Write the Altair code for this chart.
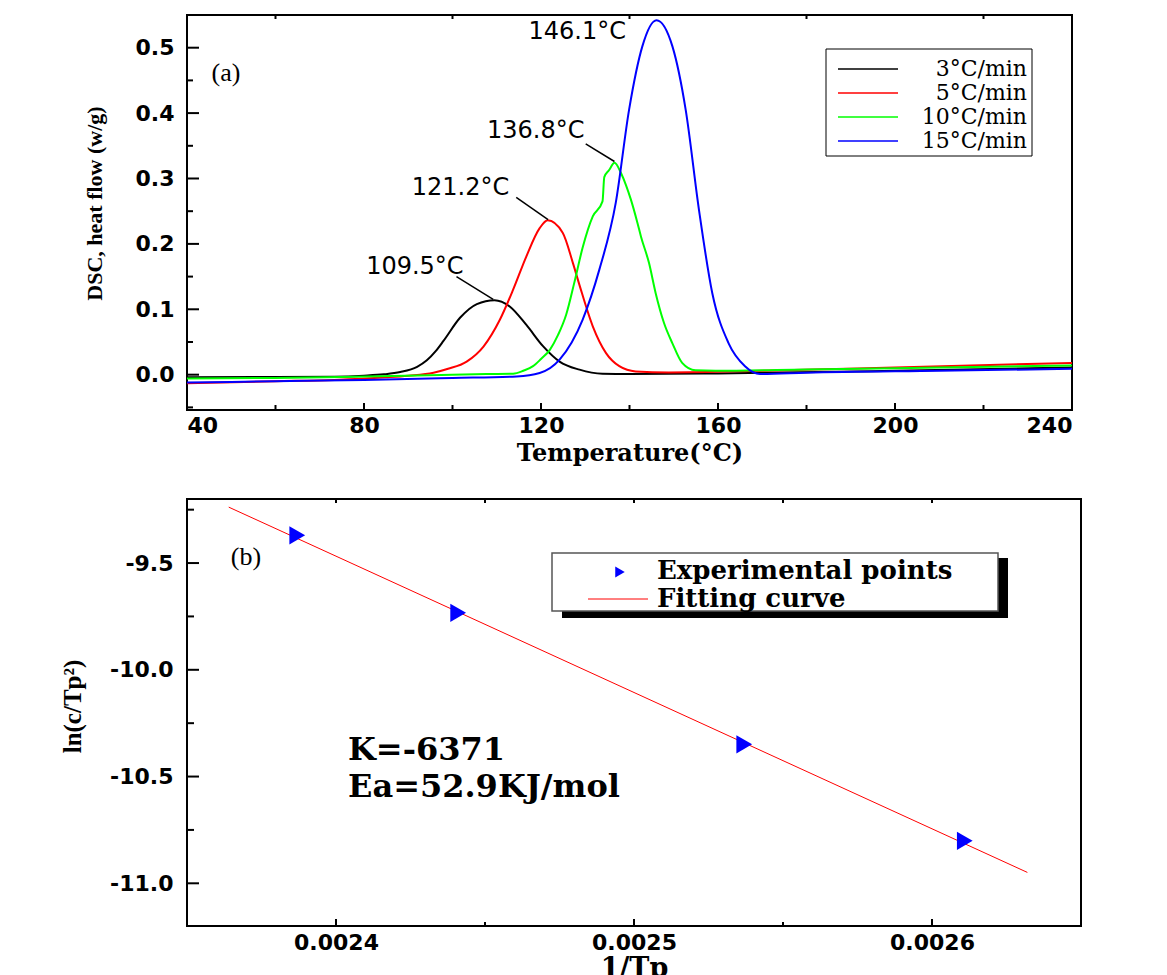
import altair as alt
import pandas as pd

# ---------------- Panel (a): DSC curves ----------------
rates = ["3°C/min", "5°C/min", "10°C/min", "15°C/min"]
colors = ["#000000", "#ff0000", "#00ff00", "#0000ff"]

black_T = [40, 60, 73.3, 80, 84.5, 88.2, 92.0, 94.2, 96.2, 98.0, 101.7, 105.5, 109.5, 113.0, 116.7, 120.4, 124.2, 128.7, 133.9, 140, 160, 200, 240]
black_v = [-0.004, -0.0035, -0.003, -0.0015, 0.0005, 0.004, 0.012, 0.022, 0.036, 0.052, 0.087, 0.108, 0.114, 0.104, 0.076, 0.044, 0.020, 0.0077, 0.0015, 0.001, 0.002, 0.006, 0.011]

red_T = [40, 60, 73.3, 85, 90, 95.7, 99, 103.2, 107.0, 110.7, 113.7, 116.7, 119.7, 121.5, 124.9, 127.2, 128.7, 131.7, 134.7, 137.7, 141.4, 148.9, 170, 200, 240]
red_v = [-0.013, -0.010, -0.008, -0.004, -0.0015, 0.003, 0.009, 0.020, 0.043, 0.084, 0.130, 0.181, 0.224, 0.236, 0.217, 0.171, 0.137, 0.074, 0.033, 0.013, 0.005, 0.0035, 0.006, 0.011, 0.018]

green_T = [40, 60, 75, 95, 107.7, 113.7, 116, 118.2, 120, 122, 123.8, 125.7, 127.5, 129.4, 131.7, 133.9, 134.3, 135.4, 136.6, 138.1, 139.2, 140.3, 141.8, 142.6, 144.4, 145.9, 147.8, 149.7, 151.9, 154.9, 159.4, 180, 210, 240]
green_v = [-0.006, -0.005, -0.0035, -0.001, 0.001, 0.0015, 0.006, 0.013, 0.024, 0.038, 0.060, 0.092, 0.140, 0.194, 0.242, 0.265, 0.302, 0.313, 0.324, 0.308, 0.290, 0.268, 0.232, 0.211, 0.171, 0.125, 0.079, 0.048, 0.018, 0.0066, 0.006, 0.008, 0.011, 0.014]

blue_T = [40, 60, 80, 100, 114.5, 119.7, 124.2, 129.4, 133.2, 136.9, 139.9, 142.9, 146.1, 149.7, 152.7, 155.7, 158.7, 162.4, 166.1, 169.5, 180, 210, 240]
blue_v = [-0.012, -0.010, -0.008, -0.005, -0.0026, 0.0026, 0.023, 0.084, 0.161, 0.263, 0.405, 0.502, 0.542, 0.502, 0.405, 0.252, 0.125, 0.048, 0.013, 0.001, 0.003, 0.006, 0.009]

# peak annotations (text centre and leader line, in data coordinates)
ann_text = ["109.5°C", "121.2°C", "136.8°C", "146.1°C"]
ann_T = [91.5, 101.8, 118.8, 128.2]
ann_v = [0.164, 0.286, 0.372, 0.524]
lead_T1 = [100.9, 114.4, 130.1]
lead_v1 = [0.150, 0.271, 0.353]
lead_T2 = [109.2, 121.6, 136.6]
lead_v2 = [0.115, 0.237, 0.326]

xa_major = [40, 80, 120, 160, 200, 240]
xa_minor = [60, 100, 140, 180, 220]
ya_major = [0.0, 0.1, 0.2, 0.3, 0.4, 0.5]
ya_minor = [-0.05, 0.05, 0.15, 0.25, 0.35, 0.45]

# ---------------- Panel (b): Kissinger plot ----------------
pts_x = [0.002387, 0.002441, 0.002537, 0.002611]
pts_y = [-9.370, -9.733, -10.349, -10.801]
fit_x = [0.002364, 0.002632]
fit_y = [-9.238, -10.949]

xb_major = [0.0024, 0.0025, 0.0026]
xb_minor = [0.00245, 0.00255]
yb_major = [-9.5, -10.0, -10.5, -11.0]
yb_minor = [-9.25, -9.75, -10.25, -10.75]

# ---------------- build ----------------
W_A, H_A = 885, 395
W_B, H_B = 894, 427

rows = []
for name, Ts, vs in zip(rates, [black_T, red_T, green_T, blue_T], [black_v, red_v, green_v, blue_v]):
    for t, v in zip(Ts, vs):
        rows.append({"rate": name, "T": t, "v": v})
dsc = pd.DataFrame(rows)

one = pd.DataFrame({"k": [0]})


def sxa():
    return alt.Scale(domain=[40, 240], nice=False, zero=False)


def sya():
    return alt.Scale(domain=[-0.054, 0.55], nice=False, zero=False)


def sxb():
    return alt.Scale(domain=[0.00235, 0.00265], nice=False, zero=False)


def syb():
    return alt.Scale(domain=[-11.2, -9.2], nice=False, zero=False)


LABEL_FONT = "DejaVu Sans"
LFS = 22

AX_XA = dict(values=xa_major, format="d", ticks=False, domain=False, grid=False,
             labelFont=LABEL_FONT, labelFontWeight="bold", labelFontSize=LFS, labelPadding=5,
             title="Temperature(°C)", titleFont="DejaVu Serif", titleFontWeight="bold",
             titleFontSize=24, titleY=31, titleBaseline="top")
AX_YA = dict(values=ya_major, format=".1f", ticks=False, domain=False, grid=False,
             labelFont=LABEL_FONT, labelFontWeight="bold", labelFontSize=LFS, labelPadding=13,
             title="DSC, heat flow (w/g)", titleFont="Liberation Serif", titleFontWeight="bold",
             titleFontSize=22, titleAngle=270, titleX=-93, titleY=188,
             titleAlign="center", titleBaseline="middle")
AX_XB = dict(values=xb_major, format=".4f", ticks=False, domain=False, grid=False,
             labelFont=LABEL_FONT, labelFontWeight="bold", labelFontSize=LFS, labelPadding=6,
             title="1/Tp", titleFont="DejaVu Serif", titleFontWeight="bold",
             titleFontSize=27, titleY=29, titleBaseline="top")
AX_YB = dict(values=yb_major, format=".1f", labelExpr="replace(datum.label, '−', '-')",
             ticks=False, domain=False, grid=False,
             labelFont=LABEL_FONT, labelFontWeight="bold", labelFontSize=LFS, labelPadding=14,
             title="ln(c/Tp²)", titleFont="Liberation Serif", titleFontWeight="bold",
             titleFontSize=25, titleAngle=270, titleX=-115, titleY=207,
             titleAlign="center", titleBaseline="middle")


def X(field, panel):
    if panel == "a":
        return alt.X(field, scale=sxa(), axis=alt.Axis(**AX_XA))
    return alt.X(field, scale=sxb(), axis=alt.Axis(**AX_XB))


def Y(field, panel):
    if panel == "a":
        return alt.Y(field, scale=sya(), axis=alt.Axis(**AX_YA))
    return alt.Y(field, scale=syb(), axis=alt.Axis(**AX_YB))


lines_a = alt.Chart(dsc).mark_line(strokeWidth=2, interpolate="monotone", clip=True).encode(
    x=X("T:Q", "a"), y=Y("v:Q", "a"),
    color=alt.Color("rate:N", scale=alt.Scale(domain=rates, range=colors), legend=None),
)


def xticks(vals, panel, y0, y1):
    return alt.Chart(pd.DataFrame({"t": vals})).mark_rule(color="black", strokeWidth=2).encode(
        x=X("t:Q", panel), y=alt.value(y0), y2=alt.value(y1))


def yticks(vals, panel, x0, x1):
    return alt.Chart(pd.DataFrame({"t": vals})).mark_rule(color="black", strokeWidth=2).encode(
        y=Y("t:Q", panel), x=alt.value(x0), x2=alt.value(x1))


ann_df = pd.DataFrame({"text": ann_text, "T": ann_T, "v": ann_v})
ann_a = alt.Chart(ann_df).mark_text(font="DejaVu Sans", fontSize=24, align="center",
                                     baseline="middle", color="black").encode(
    x=X("T:Q", "a"), y=Y("v:Q", "a"), text="text:N")
lead_df = pd.DataFrame({"T1": lead_T1, "v1": lead_v1, "T2": lead_T2, "v2": lead_v2})
lead_a = alt.Chart(lead_df).mark_rule(color="black", strokeWidth=1.5).encode(
    x=X("T1:Q", "a"), y=Y("v1:Q", "a"), x2="T2:Q", y2="v2:Q")

label_a = alt.Chart(one).mark_text(text="(a)", font="Liberation Serif", fontSize=26,
                                   align="center", baseline="middle", color="black").encode(
    x=alt.value(39), y=alt.value(58))

leg_a = [alt.Chart(one).mark_rect(fill="white", stroke="black", strokeWidth=1).encode(
    x=alt.value(639), x2=alt.value(845), y=alt.value(34), y2=alt.value(141))]
for i, (name, col) in enumerate(zip(rates, colors)):
    yy = 54 + 24 * i
    leg_a.append(alt.Chart(one).mark_rule(color=col, strokeWidth=1.5).encode(
        x=alt.value(651), x2=alt.value(711), y=alt.value(yy)))
    leg_a.append(alt.Chart(one).mark_text(text=name, font="DejaVu Serif", fontSize=22,
                                          align="right", baseline="middle", color="black").encode(
        x=alt.value(840), y=alt.value(yy)))

panel_a = alt.layer(
    lines_a, lead_a, ann_a, label_a,
    yticks(ya_major, "a", 0, 12), yticks(ya_minor, "a", 0, 6),
    xticks(xa_major[1:-1], "a", H_A, H_A - 7), xticks(xa_minor, "a", H_A, H_A - 5),
    xticks(xa_minor, "a", 0, 4),
    *leg_a,
).properties(width=W_A, height=H_A)

# panel b
fit_df = pd.DataFrame({"x": fit_x, "y": fit_y})
fit_b = alt.Chart(fit_df).mark_line(color="#ff0000", strokeWidth=1, clip=True).encode(
    x=X("x:Q", "b"), y=Y("y:Q", "b"))
pts_df = pd.DataFrame({"x": pts_x, "y": pts_y})
pts_b = alt.Chart(pts_df).mark_point(shape="triangle-right", filled=True, color="#0000ff",
                                     size=330, opacity=1).encode(
    x=X("x:Q", "b"), y=Y("y:Q", "b"))

label_b = alt.Chart(one).mark_text(text="(b)", font="Liberation Serif", fontSize=26,
                                   align="center", baseline="middle", color="black").encode(
    x=alt.value(59), y=alt.value(58))
k_txt = alt.Chart(one).mark_text(text="K=-6371", font="DejaVu Serif", fontWeight="bold",
                                 fontSize=32, align="left", baseline="middle", color="black").encode(
    x=alt.value(161), y=alt.value(251))
ea_txt = alt.Chart(one).mark_text(text="Ea=52.9KJ/mol", font="DejaVu Serif", fontWeight="bold",
                                  fontSize=32, align="left", baseline="middle", color="black").encode(
    x=alt.value(161), y=alt.value(288))

leg_b = [
    alt.Chart(one).mark_rect(fill="black").encode(
        x=alt.value(375), x2=alt.value(821), y=alt.value(59), y2=alt.value(119)),
    alt.Chart(one).mark_rect(fill="white", stroke="#555555", strokeWidth=1.5).encode(
        x=alt.value(365), x2=alt.value(811), y=alt.value(54), y2=alt.value(112)),
    alt.Chart(one).mark_point(shape="triangle-right", filled=True, color="#0000ff", size=120,
                              opacity=1).encode(x=alt.value(433), y=alt.value(73)),
    alt.Chart(one).mark_rule(color="#ff0000", strokeWidth=1).encode(
        x=alt.value(401), x2=alt.value(461), y=alt.value(100)),
    alt.Chart(one).mark_text(text="Experimental points", font="DejaVu Serif", fontWeight="bold",
                             fontSize=26, align="left", baseline="middle", color="black").encode(
        x=alt.value(470), y=alt.value(72)),
    alt.Chart(one).mark_text(text="Fitting curve", font="DejaVu Serif", fontWeight="bold",
                             fontSize=26, align="left", baseline="middle", color="black").encode(
        x=alt.value(470), y=alt.value(100)),
]

panel_b = alt.layer(
    fit_b, pts_b, label_b, k_txt, ea_txt,
    yticks(yb_major, "b", 0, 12), yticks(yb_minor, "b", 0, 7),
    xticks(xb_major, "b", H_B, H_B - 7), xticks(xb_minor, "b", H_B, H_B - 4),
    xticks(xb_major + xb_minor, "b", 0, 4),
    *leg_b,
).properties(width=W_B, height=H_B)

chart = alt.vconcat(panel_a, panel_b, spacing=31).properties(
    padding={"left": 51, "top": 5, "right": 5, "bottom": 5}
).configure_view(stroke="black", strokeWidth=2).configure_axis(
    labelColor="black", titleColor="black")

chart.save("out.html", embed_options={"renderer": "svg", "actions": False})
